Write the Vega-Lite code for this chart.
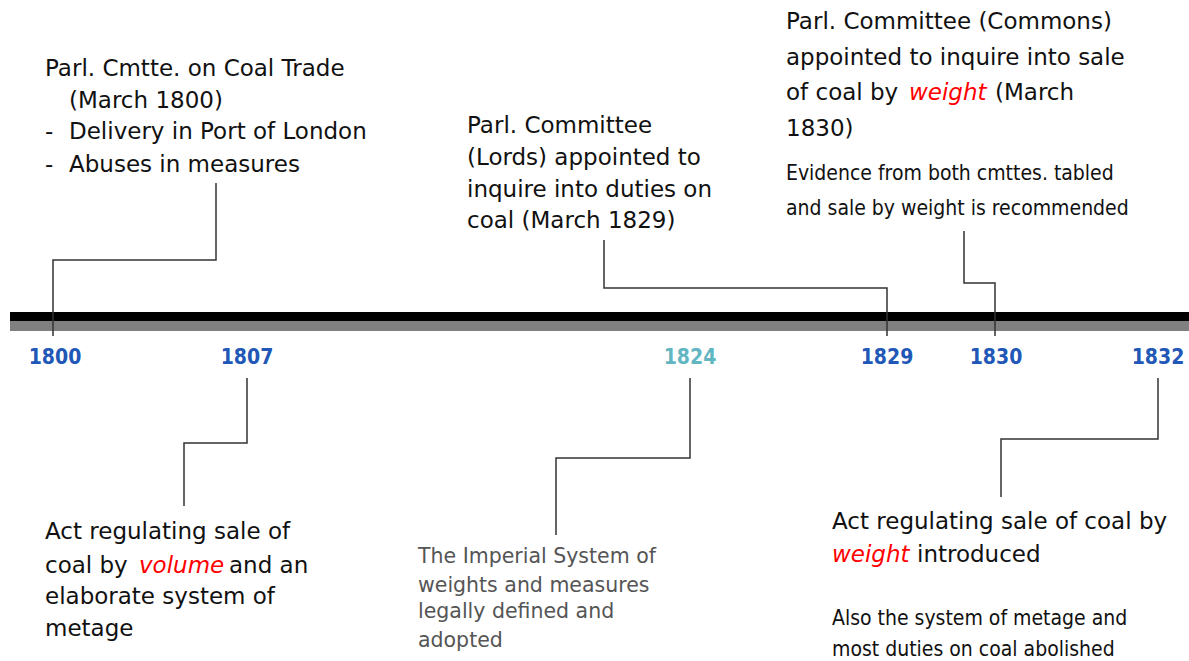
{
  "$schema": "https://vega.github.io/schema/vega-lite/v6.json",
  "width": 1189,
  "height": 661,
  "padding": 0,
  "autosize": {"type": "fit", "contains": "padding"},
  "config": {"view": {"stroke": null}},
  "datasets": {
    "band": [
      {"part": "top", "x0": 10, "x1": 1189, "y0": 312, "y1": 321},
      {"part": "bottom", "x0": 10, "x1": 1189, "y0": 321, "y1": 331}
    ],
    "connectors": [
      {"id": "1800", "seq": 1, "px": 216, "py": 183},
      {"id": "1800", "seq": 2, "px": 216, "py": 260},
      {"id": "1800", "seq": 3, "px": 53, "py": 260},
      {"id": "1800", "seq": 4, "px": 53, "py": 336},
      {"id": "1829", "seq": 1, "px": 604, "py": 240},
      {"id": "1829", "seq": 2, "px": 604, "py": 288},
      {"id": "1829", "seq": 3, "px": 887, "py": 288},
      {"id": "1829", "seq": 4, "px": 887, "py": 336},
      {"id": "1830", "seq": 1, "px": 964, "py": 231},
      {"id": "1830", "seq": 2, "px": 964, "py": 283},
      {"id": "1830", "seq": 3, "px": 995, "py": 283},
      {"id": "1830", "seq": 4, "px": 995, "py": 336},
      {"id": "1807", "seq": 1, "px": 247, "py": 378},
      {"id": "1807", "seq": 2, "px": 247, "py": 443},
      {"id": "1807", "seq": 3, "px": 184, "py": 443},
      {"id": "1807", "seq": 4, "px": 184, "py": 506},
      {"id": "1824", "seq": 1, "px": 690, "py": 378},
      {"id": "1824", "seq": 2, "px": 690, "py": 458},
      {"id": "1824", "seq": 3, "px": 556, "py": 458},
      {"id": "1824", "seq": 4, "px": 556, "py": 535},
      {"id": "1832", "seq": 1, "px": 1158, "py": 378},
      {"id": "1832", "seq": 2, "px": 1158, "py": 439},
      {"id": "1832", "seq": 3, "px": 1001, "py": 439},
      {"id": "1832", "seq": 4, "px": 1001, "py": 497}
    ],
    "ticks": [
      {"year": "1800", "kind": "main", "px": 55, "py": 358},
      {"year": "1807", "kind": "main", "px": 247, "py": 358},
      {"year": "1824", "kind": "highlight", "px": 690, "py": 358},
      {"year": "1829", "kind": "main", "px": 887, "py": 358},
      {"year": "1830", "kind": "main", "px": 996, "py": 358},
      {"year": "1832", "kind": "main", "px": 1158, "py": 358}
    ],
    "notes": [
      {"kind": "body", "text": "Parl. Cmtte. on Coal Trade", "px": 45, "py": 76},
      {"kind": "body", "text": "(March 1800)", "px": 69, "py": 108},
      {"kind": "body", "text": "-", "px": 45, "py": 139},
      {"kind": "body", "text": "Delivery in Port of London", "px": 69, "py": 139},
      {"kind": "body", "text": "-", "px": 45, "py": 172},
      {"kind": "body", "text": "Abuses in measures", "px": 69, "py": 172},
      {"kind": "body", "text": "Parl. Committee", "px": 467, "py": 133},
      {"kind": "body", "text": "(Lords) appointed to", "px": 467, "py": 165},
      {"kind": "body", "text": "inquire into duties on", "px": 467, "py": 197},
      {"kind": "body", "text": "coal (March 1829)", "px": 467, "py": 228},
      {"kind": "body", "text": "Parl. Committee (Commons)", "px": 786, "py": 29},
      {"kind": "body", "text": "appointed to inquire into sale", "px": 786, "py": 65},
      {"kind": "body", "text": "of coal by", "px": 786, "py": 100},
      {"kind": "emph", "text": "weight", "px": 909, "py": 100},
      {"kind": "body", "text": "(March", "px": 995, "py": 100},
      {"kind": "body", "text": "1830)", "px": 786, "py": 136},
      {"kind": "narrow", "text": "Evidence from both cmttes. tabled", "px": 786, "py": 180},
      {"kind": "narrow", "text": "and sale by weight is recommended", "px": 786, "py": 215},
      {"kind": "body", "text": "Act regulating sale of", "px": 45, "py": 539},
      {"kind": "body", "text": "coal by", "px": 45, "py": 573},
      {"kind": "emph", "text": "volume", "px": 139, "py": 573},
      {"kind": "body", "text": "and an", "px": 229, "py": 573},
      {"kind": "body", "text": "elaborate system of", "px": 45, "py": 604},
      {"kind": "body", "text": "metage", "px": 45, "py": 636},
      {"kind": "grey", "text": "The Imperial System of", "px": 418, "py": 563},
      {"kind": "grey", "text": "weights and measures", "px": 418, "py": 592},
      {"kind": "grey", "text": "legally defined and", "px": 418, "py": 618},
      {"kind": "grey", "text": "adopted", "px": 418, "py": 647},
      {"kind": "body", "text": "Act regulating sale of coal by", "px": 832, "py": 529},
      {"kind": "emph", "text": "weight", "px": 832, "py": 562},
      {"kind": "body", "text": "introduced", "px": 917, "py": 562},
      {"kind": "narrow", "text": "Also the system of metage and", "px": 832, "py": 625},
      {"kind": "narrow", "text": "most duties on coal abolished", "px": 832, "py": 656}
    ]
  },
  "layer": [
    {
      "data": {"name": "band"},
      "mark": {"type": "rect"},
      "encoding": {
        "x": {"field": "x0", "type": "quantitative", "scale": {"domain": [0, 1189], "nice": false, "zero": false}, "axis": null},
        "x2": {"field": "x1"},
        "y": {"field": "y0", "type": "quantitative", "scale": {"domain": [0, 661], "nice": false, "zero": false, "reverse": true}, "axis": null},
        "y2": {"field": "y1"},
        "color": {"condition": {"test": "datum.part === 'top'", "value": "#000000"}, "value": "#808080"}
      }
    },
    {
      "data": {"name": "connectors"},
      "mark": {"type": "line", "stroke": "#333333", "strokeWidth": 1.5},
      "encoding": {
        "x": {"field": "px", "type": "quantitative", "scale": {"domain": [0, 1189], "nice": false, "zero": false}, "axis": null},
        "y": {"field": "py", "type": "quantitative", "scale": {"domain": [0, 661], "nice": false, "zero": false, "reverse": true}, "axis": null},
        "detail": {"field": "id", "type": "nominal"},
        "order": {"field": "seq", "type": "quantitative"}
      }
    },
    {
      "data": {"name": "ticks"},
      "mark": {"type": "text", "font": "DejaVu Sans Condensed, sans-serif", "fontWeight": "bold", "fontSize": 21, "align": "center", "baseline": "middle"},
      "encoding": {
        "x": {"field": "px", "type": "quantitative", "scale": {"domain": [0, 1189], "nice": false, "zero": false}, "axis": null},
        "y": {"field": "py", "type": "quantitative", "scale": {"domain": [0, 661], "nice": false, "zero": false, "reverse": true}, "axis": null},
        "text": {"field": "year", "type": "nominal"},
        "color": {"condition": {"test": "datum.kind === 'highlight'", "value": "#62B6C2"}, "value": "#2157B6"}
      }
    },
    {
      "data": {"name": "notes"},
      "transform": [{"filter": "datum.kind === 'body'"}],
      "mark": {"type": "text", "font": "DejaVu Sans", "fontSize": 23, "align": "left", "baseline": "alphabetic", "color": "#111111"},
      "encoding": {
        "x": {"field": "px", "type": "quantitative", "scale": {"domain": [0, 1189], "nice": false, "zero": false}, "axis": null},
        "y": {"field": "py", "type": "quantitative", "scale": {"domain": [0, 661], "nice": false, "zero": false, "reverse": true}, "axis": null},
        "text": {"field": "text", "type": "nominal"}
      }
    },
    {
      "data": {"name": "notes"},
      "transform": [{"filter": "datum.kind === 'emph'"}],
      "mark": {"type": "text", "font": "DejaVu Sans", "fontSize": 23, "fontStyle": "italic", "align": "left", "baseline": "alphabetic", "color": "#FF0000"},
      "encoding": {
        "x": {"field": "px", "type": "quantitative", "scale": {"domain": [0, 1189], "nice": false, "zero": false}, "axis": null},
        "y": {"field": "py", "type": "quantitative", "scale": {"domain": [0, 661], "nice": false, "zero": false, "reverse": true}, "axis": null},
        "text": {"field": "text", "type": "nominal"}
      }
    },
    {
      "data": {"name": "notes"},
      "transform": [{"filter": "datum.kind === 'narrow'"}],
      "mark": {"type": "text", "font": "DejaVu Sans Condensed, sans-serif", "fontSize": 21, "align": "left", "baseline": "alphabetic", "color": "#111111"},
      "encoding": {
        "x": {"field": "px", "type": "quantitative", "scale": {"domain": [0, 1189], "nice": false, "zero": false}, "axis": null},
        "y": {"field": "py", "type": "quantitative", "scale": {"domain": [0, 661], "nice": false, "zero": false, "reverse": true}, "axis": null},
        "text": {"field": "text", "type": "nominal"}
      }
    },
    {
      "data": {"name": "notes"},
      "transform": [{"filter": "datum.kind === 'grey'"}],
      "mark": {"type": "text", "font": "DejaVu Sans", "fontSize": 20.5, "align": "left", "baseline": "alphabetic", "color": "#555555"},
      "encoding": {
        "x": {"field": "px", "type": "quantitative", "scale": {"domain": [0, 1189], "nice": false, "zero": false}, "axis": null},
        "y": {"field": "py", "type": "quantitative", "scale": {"domain": [0, 661], "nice": false, "zero": false, "reverse": true}, "axis": null},
        "text": {"field": "text", "type": "nominal"}
      }
    }
  ]
}
